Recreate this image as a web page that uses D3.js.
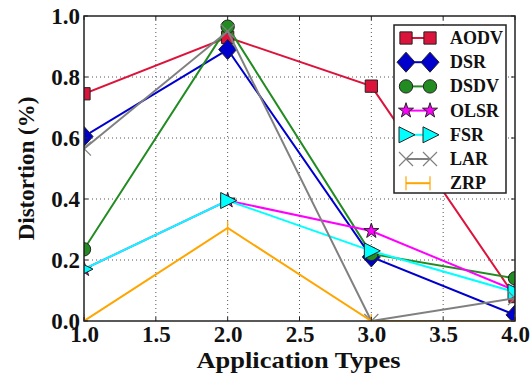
<!DOCTYPE html>
<html><head><meta charset="utf-8">
<script src="https://cdn.jsdelivr.net/npm/d3@7"></script>
<style>body{margin:0;background:#fff}svg{display:block}text{font-family:"Liberation Serif","Times New Roman",serif;font-weight:bold}</style>
</head><body><svg id="c" width="532" height="377"></svg>
<script>
const xValues = [1, 2, 3, 4];
const protocols = ["AODV","DSR","DSDV","OLSR","FSR","LAR","ZRP"];
const aodv = [0.745, 0.93, 0.77, 0.08];
const dsr  = [0.605, 0.89, 0.21, 0.02];
const dsdv = [0.235, 0.965, 0.22, 0.14];
const olsr = [0.17, 0.395, 0.295, 0.10];
const fsr  = [0.17, 0.395, 0.23, 0.095];
const lar  = [0.565, 0.95, 0.0, 0.075];
const zrp  = [0.0, 0.305, 0.0, 0.0];
const xTicks = [1.0,1.5,2.0,2.5,3.0,3.5,4.0];
const yTicks = [0.0,0.2,0.4,0.6,0.8,1.0];

const seriesValues = [aodv,dsr,dsdv,olsr,fsr,lar,zrp];
const styles = [
  {color:"#dc143c", fill:"#dc143c", sym:"square"},
  {color:"#0000cd", fill:"#0000cd", sym:"diamond"},
  {color:"#228b22", fill:"#228b22", sym:"circle"},
  {color:"#ff00ff", fill:"#ff00ff", sym:"star"},
  {color:"#00ffff", fill:"#00ffff", sym:"tri"},
  {color:"#808080", fill:"none", sym:"x"},
  {color:"#ffa500", fill:"none", sym:"vline"}
];
const FONT = "Liberation Serif, Times New Roman, serif";

const svg = d3.select("#c");
const L=84, R=515, T=16, B=321;
const x = d3.scaleLinear().domain([1,4]).range([L,R]);
const y = d3.scaleLinear().domain([0,1]).range([B,T]);

svg.append("defs").append("clipPath").attr("id","clip")
  .append("rect").attr("x",L).attr("y",T).attr("width",R-L).attr("height",B-T);

const g = svg.append("g");
g.selectAll(".gx").data(xTicks.slice(1,-1)).enter().append("line")
  .attr("x1",d=>x(d)).attr("x2",d=>x(d)).attr("y1",T).attr("y2",B)
  .attr("stroke","#555").attr("stroke-width",1).attr("stroke-dasharray","1,3");
g.selectAll(".gy").data(yTicks.slice(1,-1)).enter().append("line")
  .attr("y1",d=>y(d)).attr("y2",d=>y(d)).attr("x1",L).attr("x2",R)
  .attr("stroke","#555").attr("stroke-width",1).attr("stroke-dasharray","1,3");

function markerPath(sym){
  switch(sym){
    case "square": return d3.symbol(d3.symbolSquare, 150)();
    case "diamond": return "M0,-10L9,0L0,10L-9,0Z";
    case "circle": return d3.symbol(d3.symbolCircle, 140)();
    case "star": return d3.symbol(d3.symbolStar, 70)();
    case "tri": return "M-7,-8L9,0L-7,8Z";
    case "x": return "M-7,-7L7,7M-7,7L7,-7";
    case "vline": return "M0,-7L0,7";
  }
}

const plot = svg.append("g").attr("clip-path","url(#clip)");
seriesValues.forEach((vals,i)=>{
  const st = styles[i];
  const data = vals.map((v,j)=>[xValues[j],v]);
  plot.append("path").datum(data)
    .attr("d", d3.line().x(d=>x(d[0])).y(d=>y(d[1])))
    .attr("fill","none").attr("stroke",st.color).attr("stroke-width",2);
  plot.selectAll(".m"+i).data(data).enter().append("path")
    .attr("transform",d=>`translate(${x(d[0])},${y(d[1])})`)
    .attr("d",markerPath(st.sym))
    .attr("fill",st.fill)
    .attr("stroke", (st.sym==="x"||st.sym==="vline") ? st.color : "#222")
    .attr("stroke-width", (st.sym==="x"||st.sym==="vline") ? 1.2 : 1);
});

svg.append("rect").attr("x",L).attr("y",T).attr("width",R-L).attr("height",B-T)
  .attr("fill","none").attr("stroke","#222").attr("stroke-width",1.5);

const xAxis = svg.append("g").attr("transform",`translate(0,${B})`)
  .call(d3.axisBottom(x).tickValues(xTicks).tickFormat(d3.format(".1f")).tickSize(0).tickPadding(5));
const yAxis = svg.append("g").attr("transform",`translate(${L},0)`)
  .call(d3.axisLeft(y).tickValues(yTicks).tickFormat(d3.format(".1f")).tickSize(0).tickPadding(4));
[xAxis,yAxis].forEach(a=>{
  a.select(".domain").remove();
  a.selectAll("text").attr("font-family",FONT).attr("font-weight","bold")
    .attr("font-size",23).attr("fill","#111");
});
svg.selectAll(".tkx").data(xTicks).enter().append("g").each(function(d){
  d3.select(this).append("line").attr("x1",x(d)).attr("x2",x(d)).attr("y1",B).attr("y2",B-4).attr("stroke","#222");
  d3.select(this).append("line").attr("x1",x(d)).attr("x2",x(d)).attr("y1",T).attr("y2",T+4).attr("stroke","#222");
});
svg.selectAll(".tky").data(yTicks).enter().append("g").each(function(d){
  d3.select(this).append("line").attr("y1",y(d)).attr("y2",y(d)).attr("x1",L).attr("x2",L+4).attr("stroke","#222");
  d3.select(this).append("line").attr("y1",y(d)).attr("y2",y(d)).attr("x1",R).attr("x2",R-4).attr("stroke","#222");
});

svg.append("text").attr("x",(L+R)/2 - 1).attr("y",368).attr("text-anchor","middle")
  .attr("font-size",23).attr("fill","#111").attr("textLength",204).attr("lengthAdjust","spacingAndGlyphs").text("Application Types");
svg.append("text").attr("transform",`translate(34,${(T+B)/2}) rotate(-90)`).attr("text-anchor","middle")
  .attr("font-size",23).attr("fill","#111").text("Distortion (%)");

const lg = svg.append("g");
lg.append("rect").attr("x",394).attr("y",25).attr("width",112).attr("height",168)
  .attr("fill","#fff").attr("stroke","#222").attr("stroke-width",1.5);
protocols.forEach((p,i)=>{
  const st = styles[i];
  const yy = 38 + i*24.2;
  lg.append("line").attr("x1",406).attr("x2",430).attr("y1",yy).attr("y2",yy)
    .attr("stroke",st.color).attr("stroke-width",2);
  [406,430].forEach(xx=>{
    lg.append("path").attr("transform",`translate(${xx},${yy})`)
      .attr("d",markerPath(st.sym)).attr("fill",st.fill)
      .attr("stroke",(st.sym==="x"||st.sym==="vline") ? st.color : "#222")
      .attr("stroke-width",(st.sym==="x"||st.sym==="vline") ? 1.2 : 1);
  });
  lg.append("text").attr("x",450).attr("y",yy+6).attr("font-size",18).attr("fill","#111").text(p);
});
</script></body></html>
